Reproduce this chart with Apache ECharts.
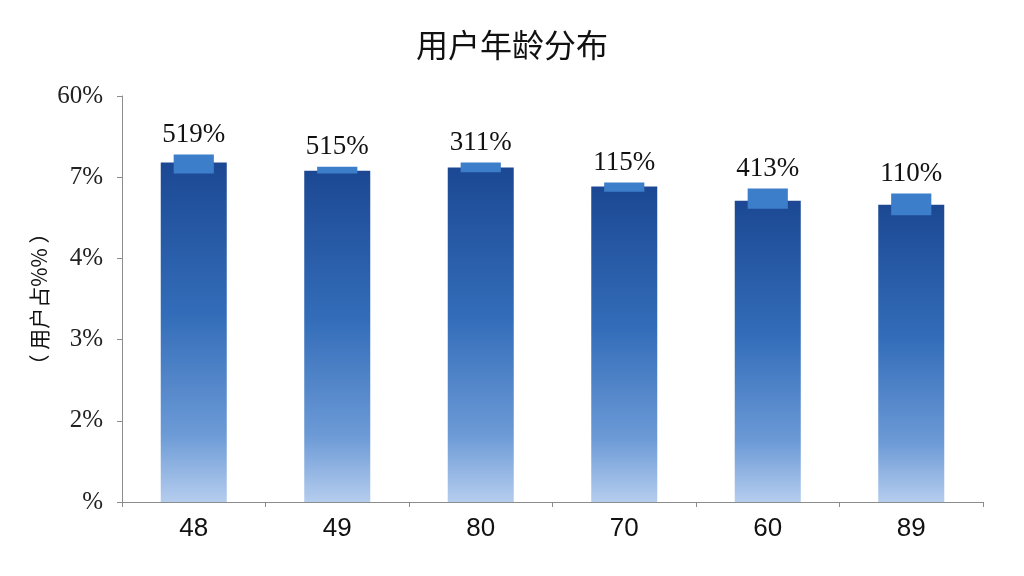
<!DOCTYPE html>
<html>
<head>
<meta charset="utf-8">
<script src="https://cdn.jsdelivr.net/npm/echarts@6/dist/echarts.min.js"></script>
<style>html,body{margin:0;padding:0;background:#fff;}#c{width:1024px;height:576px;}</style>
</head>
<body>
<div id="c"></div>
<script>
const titleText = '用户年龄分布';
const yAxisName = '（ 用户占%% ）';
const categories = ['48', '49', '80', '70', '60', '89'];
const barValues = [4.18, 4.08, 4.12, 3.885, 3.71, 3.66];
const capLow = [4.045, 4.045, 4.06, 3.82, 3.61, 3.53];
const capHigh = [4.28, 4.13, 4.18, 3.935, 3.86, 3.80];
const barLabels = ['519%', '515%', '311%', '115%', '413%', '110%'];
const yTickLabels = ['%', '2%', '3%', '4%', '7%', '60%'];

const capData = categories.map((c, i) => [i, capLow[i], capHigh[i]]);

const chart = echarts.init(document.getElementById('c'));
chart.setOption({
  animation: false,
  backgroundColor: '#fff',
  title: {
    text: titleText,
    left: 'center',
    top: 24,
    textStyle: { fontFamily: '"Noto Sans CJK SC", sans-serif', fontSize: 32, fontWeight: 'normal', color: '#111' }
  },
  grid: { left: 122, right: 41, top: 96, bottom: 74 },
  xAxis: {
    type: 'category',
    data: categories,
    axisLine: { lineStyle: { color: '#8c8c8c', width: 1 } },
    axisTick: { show: true, length: 5, lineStyle: { color: '#8c8c8c' } },
    axisLabel: { fontFamily: '"Liberation Sans", Arial, sans-serif', fontSize: 26, color: '#111', margin: 14 }
  },
  yAxis: {
    type: 'value',
    min: 0, max: 5, interval: 1,
    name: yAxisName,
    nameLocation: 'middle',
    nameRotate: 90,
    nameGap: 72,
    nameMoveOverlap: false,
    nameTextStyle: { fontFamily: '"Noto Sans CJK SC", sans-serif', fontSize: 21, color: '#111' },
    axisLine: { show: true, lineStyle: { color: '#8c8c8c', width: 1 } },
    axisTick: { show: true, length: 5, lineStyle: { color: '#8c8c8c' } },
    splitLine: { show: false },
    axisLabel: {
      fontFamily: '"Liberation Serif", "Times New Roman", serif',
      fontSize: 25, color: '#222', margin: 19,
      formatter: (v) => yTickLabels[Math.round(v)]
    }
  },
  series: [
    {
      type: 'bar',
      data: barValues,
      barWidth: '46%',
      z: 2,
      itemStyle: {
        color: new echarts.graphic.LinearGradient(0, 0, 0, 1, [
          { offset: 0, color: '#1c4893' },
          { offset: 0.45, color: '#336db9' },
          { offset: 0.8, color: '#6c9ad6' },
          { offset: 1, color: '#b5cdee' }
        ])
      }
    },
    {
      type: 'custom',
      data: capData,
      z: 5,
      renderItem: function (params, api) {
        const i = api.value(0);
        const lo = api.coord([i, api.value(1)]);
        const hi = api.coord([i, api.value(2)]);
        const w = api.size([1, 0])[0] * 0.28;
        return {
          type: 'group',
          children: [
            { type: 'rect', shape: { x: hi[0] - w / 2, y: hi[1], width: w, height: lo[1] - hi[1] }, style: { fill: '#3c7ec9' } },
            { type: 'text', style: { text: barLabels[i], x: hi[0], y: hi[1] - 20, textAlign: 'center', textVerticalAlign: 'middle', font: '27px "Liberation Serif", serif', fill: '#111' } }
          ]
        };
      }
    }
  ]
});
</script>
</body>
</html>
